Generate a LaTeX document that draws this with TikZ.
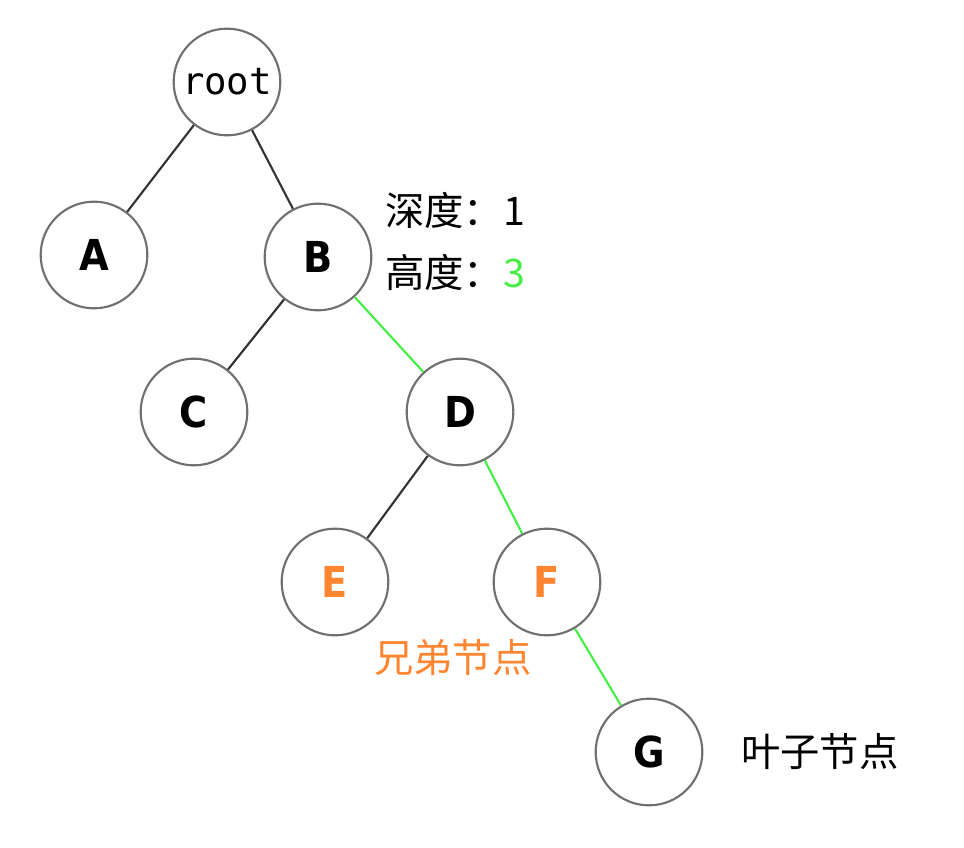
\documentclass[tikz,border=0pt]{standalone}
\usepackage{fontspec}
\setmainfont{DejaVu Sans Mono}
\newfontfamily\cjk{Noto Sans CJK SC}
\newfontfamily\monofnt{DejaVu Sans Mono}
\newfontfamily\letterfnt{DejaVu Sans Condensed}
\definecolor{edgegray}{HTML}{333333}
\definecolor{ringgray}{HTML}{707070}
\definecolor{lgreen}{HTML}{44EE44}
\definecolor{orng}{HTML}{FF8530}
\begin{document}
\begin{tikzpicture}[x=0.75pt,y=-0.75pt,
  treenode/.style={circle,draw=ringgray,line width=1.6pt,minimum size=80pt,inner sep=0pt,font=\monofnt\fontsize{28}{28}\selectfont},
  letter/.style={treenode,font=\letterfnt\bfseries\fontsize{32}{32}\selectfont},
  edge/.style={draw=edgegray,line width=1.6pt},
  gedge/.style={draw=lgreen,line width=1.6pt},
  cjktext/.style={font=\cjk\fontsize{29.5}{29.5}\selectfont,anchor=west,inner sep=0pt}]
\useasboundingbox (0,0) rectangle (964,848);
\node[treenode] (root) at (227,82) {root};
\node[letter] (A) at (94,255) {A};
\node[letter] (B) at (318,257) {B};
\node[letter] (C) at (194,412) {C};
\node[letter] (D) at (460,412) {D};
\node[letter,text=orng] (E) at (335,582) {E};
\node[letter,text=orng] (F) at (547,582) {F};
\node[letter] (G) at (649,752) {G};
\draw[edge] (root) -- (A);
\draw[edge] (root) -- (B);
\draw[edge] (B) -- (C);
\draw[gedge] (B) -- (D);
\draw[edge] (D) -- (E);
\draw[gedge] (D) -- (F);
\draw[gedge] (F) -- (G);
\node[cjktext] (depth) at (385,210) {深度：1};
\node[cjktext] (height) at (385,272) {高度：\textcolor{lgreen}{3}};
\node[cjktext,text=orng] (sib) at (374,658) {兄弟节点};
\node[cjktext] (leaf) at (741,752) {叶子节点};
\end{tikzpicture}
\end{document}
